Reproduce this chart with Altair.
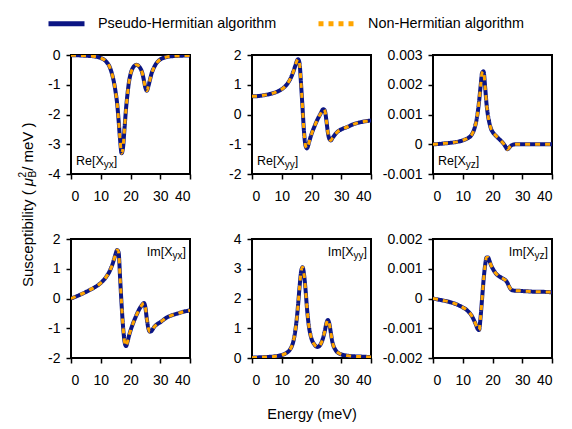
import altair as alt
import pandas as pd

FONT = "Liberation Sans"

# ---------------- data ----------------
energy = [0, 2, 4, 6, 8, 10, 11, 12, 13, 14,
          14.5, 15, 15.5, 16, 16.5, 17, 17.5, 18, 18.5, 19, 19.5,
          20, 21, 22, 23, 24, 24.5, 25, 25.5, 26, 26.5, 27,
          28, 29, 30, 32, 34, 36, 38, 40]

re_yx = [-0.01, -0.01, -0.02, -0.03, -0.05, -0.10, -0.15, -0.24, -0.40, -0.72,
         -0.95, -1.25, -1.62, -2.20, -2.85, -3.30, -3.10, -2.45, -1.80, -1.30, -0.90,
         -0.65, -0.40, -0.33, -0.40, -0.62, -0.85, -1.10, -1.20, -1.05, -0.85, -0.65,
         -0.40, -0.24, -0.15, -0.07, -0.04, -0.03, -0.02, -0.02]

re_yy = [0.61, 0.62, 0.65, 0.69, 0.75, 0.85, 0.93, 1.05, 1.22, 1.47,
         1.62, 1.78, 1.86, 1.70, 1.00, 0.20, -0.60, -1.05, -1.14, -1.00, -0.82,
         -0.66, -0.40, -0.17, 0.02, 0.18, 0.12, -0.20, -0.60, -0.82, -0.87, -0.80,
         -0.66, -0.56, -0.50, -0.42, -0.33, -0.27, -0.23, -0.20]

re_yz = [0.0, 0.00001, 0.00003, 0.00005, 0.00008, 0.00013, 0.00017, 0.00022, 0.00032, 0.00055,
         0.00075, 0.00105, 0.00145, 0.00195, 0.00240, 0.00245, 0.00195, 0.00135, 0.00095, 0.00070, 0.00052,
         0.00042, 0.00030, 0.00020, 0.00010, -0.00002, -0.00010, -0.00017, -0.00013, -0.00007, -0.00003, -0.00001,
         0.0, 0.0, 0.0, 0.0, 0.0, 0.0, 0.0, 0.0]

im_yx = [0.00, 0.08, 0.17, 0.27, 0.38, 0.52, 0.62, 0.75, 0.92, 1.17,
         1.33, 1.50, 1.63, 1.55, 0.70, -0.20, -0.95, -1.45, -1.60, -1.45, -1.25,
         -1.08, -0.80, -0.56, -0.35, -0.20, -0.15, -0.30, -0.70, -1.00, -1.12, -1.10,
         -0.95, -0.86, -0.80, -0.65, -0.56, -0.50, -0.44, -0.40]

im_yy = [0.01, 0.02, 0.03, 0.04, 0.06, 0.10, 0.14, 0.20, 0.32, 0.60,
         0.88, 1.27, 1.80, 2.40, 2.90, 3.05, 2.80, 2.29, 1.65, 1.16, 0.85,
         0.65, 0.45, 0.37, 0.45, 0.71, 0.92, 1.16, 1.28, 1.15, 0.85, 0.55,
         0.28, 0.17, 0.12, 0.08, 0.06, 0.05, 0.04, 0.03]

im_yz = [0.0, -0.00004, -0.00008, -0.00013, -0.00020, -0.00030, -0.00036, -0.00045, -0.00058, -0.00078,
         -0.00090, -0.00102, -0.00106, -0.00062, 0.0, 0.00062, 0.00110, 0.00138, 0.00138, 0.00126, 0.00112,
         0.00102, 0.00086, 0.00076, 0.00070, 0.00064, 0.00060, 0.00053, 0.00042, 0.00033, 0.00028, 0.00027,
         0.00026, 0.00026, 0.00025, 0.00024, 0.00023, 0.00023, 0.00022, 0.00021]

algorithms = ["Pseudo-Hermitian algorithm", "Non-Hermitian algorithm"]
alg_colors = ["#0b1584", "#ffa500"]

x_ticks = [0, 10, 20, 30, 40]

panel_values = [re_yx, re_yy, re_yz, im_yx, im_yy, im_yz]
panel_domains = [[-4, 0], [-2, 2], [-0.001, 0.003], [-2, 2], [0, 4], [-0.002, 0.002]]
panel_ticks = [[-4, -3, -2, -1, 0], [-2, -1, 0, 1, 2],
               [-0.001, 0, 0.001, 0.002, 0.003],
               [-2, -1, 0, 1, 2], [0, 1, 2, 3, 4],
               [-0.002, -0.001, 0, 0.001, 0.002]]
label_main = ["Re[X", "Re[X", "Re[X", "Im[X", "Im[X", "Im[X"]
label_sub = ["yx", "yy", "yz", "yx", "yy", "yz"]
label_close = ["]", "]", "]", "]", "]", "]"]

x_title = "Energy (meV)"
y_title_parts = ["Susceptibility ( ", "\u03bc", "B", "2", " / meV )"]

# ---------------- layout constants ----------------
W, H = 119, 119
MAIN_FS, SUB_FS = 12.5, 10
AW = {"R": .722, "e": .556, "[": .278, "X": .667, "I": .278, "m": .833,
      "]": .278, "y": .5, "x": .5, "z": .5, "S": .667, "u": .556, "s": .5,
      "c": .5, "p": .556, "t": .278, "i": .222, "b": .556, "l": .222,
      " ": .278, "(": .333, ")": .333, "/": .278, "V": .667,
      "\u03bc": .576, "B": .667, "2": .556}


def tw(s, fs):
    return sum(AW.get(c, .556) for c in s) * fs


LEG = dict(title=None, orient="none", legendX=-16, legendY=-43,
           direction="horizontal", symbolType="M-2,0H2",
           symbolSize=324, symbolStrokeWidth=5,
           labelFont=FONT, labelFontSize=14.4, labelColor="black", labelLimit=400,
           labelOffset=20, columnPadding=31)

color_enc = alt.Color("algorithm:N", scale=alt.Scale(domain=algorithms, range=alg_colors),
                      legend=alt.Legend(**LEG))
dash_enc = alt.StrokeDash("algorithm:N", scale=alt.Scale(domain=algorithms, range=[[1, 0], [5, 5]]),
                          legend=alt.Legend(**LEG))


def text_layer(txt, x, y, fs, align="left", angle=0, style="normal"):
    return alt.Chart(pd.DataFrame({"t": [txt]})).mark_text(
        align=align, baseline="alphabetic", fontSize=fs, font=FONT, color="black",
        angle=angle, fontStyle=style
    ).encode(text="t:N", x=alt.value(x), y=alt.value(y))


def make_panel(i):
    df = pd.DataFrame({"energy": energy, "chi": panel_values[i]})
    xaxis = alt.Axis(values=x_ticks, title=x_title if i == 4 else None,
                     titlePadding=20, labelPadding=10)
    yaxis = alt.Axis(values=panel_ticks[i], title=None, labelExpr="'' + datum.value",
                     labelPadding=6)
    base = alt.Chart(df).encode(
        x=alt.X("energy:Q", scale=alt.Scale(domain=[0, 40], nice=False), axis=xaxis),
        y=alt.Y("chi:Q", scale=alt.Scale(domain=panel_domains[i], nice=False, zero=False), axis=yaxis),
        color=color_enc, strokeDash=dash_enc,
    )
    solid = base.transform_calculate(algorithm="'%s'" % algorithms[0]).mark_line(
        interpolate="monotone", strokeWidth=4, clip=True)
    dashed = base.transform_calculate(algorithm="'%s'" % algorithms[1]).mark_line(
        interpolate="monotone", strokeWidth=3, clip=True)
    layers = [solid, dashed]

    m, s, c = label_main[i], label_sub[i], label_close[i]
    wm, ws = tw(m, MAIN_FS), tw(s, SUB_FS)
    if i < 3:
        x0, yb = 5, 110
        layers += [text_layer(m, x0, yb, MAIN_FS),
                   text_layer(s, x0 + wm, yb + 3, SUB_FS),
                   text_layer(c, x0 + wm + ws, yb, MAIN_FS)]
    else:
        xr, yb = W - 4, 17
        wc = tw(c, MAIN_FS)
        layers += [text_layer(c, xr, yb, MAIN_FS, align="right"),
                   text_layer(s, xr - wc, yb + 3, SUB_FS, align="right"),
                   text_layer(m, xr - wc - ws, yb, MAIN_FS, align="right")]

    if i == 0:
        fs = 15
        bx = -38
        y0 = 232
        p0, p1, p2, p3, p4 = y_title_parts
        w0 = tw(p0, fs)
        wmu = tw(p1, fs)
        wsub = tw(p2, 10)
        layers += [text_layer(p0, bx, y0, fs, angle=270),
                   text_layer(p1, bx, y0 - w0, fs, angle=270, style="italic"),
                   text_layer(p2, bx + 3, y0 - w0 - wmu, 10, angle=270),
                   text_layer(p3, bx - 7, y0 - w0 - wmu, 10, angle=270),
                   text_layer(p4, bx, y0 - w0 - wmu - wsub, fs, angle=270)]
    return alt.layer(*layers).properties(width=W, height=H)


chart = alt.concat(*[make_panel(i) for i in range(6)], columns=3,
                   spacing={"row": 65, "column": 62}, bounds="flush").configure_axis(
    labelFont=FONT, labelFontSize=14, labelColor="black",
    tickColor="black", tickWidth=1.5, tickSize=5, domain=False, grid=False,
    titleFont=FONT, titleFontSize=14.5, titleColor="black", titleFontWeight="normal"
).configure_view(stroke="black", strokeWidth=2).properties(
    padding={"left": 9, "top": 4, "right": 5, "bottom": 5}, background="white")

chart.save("out.html", embed_options={"renderer": "svg", "actions": False})
